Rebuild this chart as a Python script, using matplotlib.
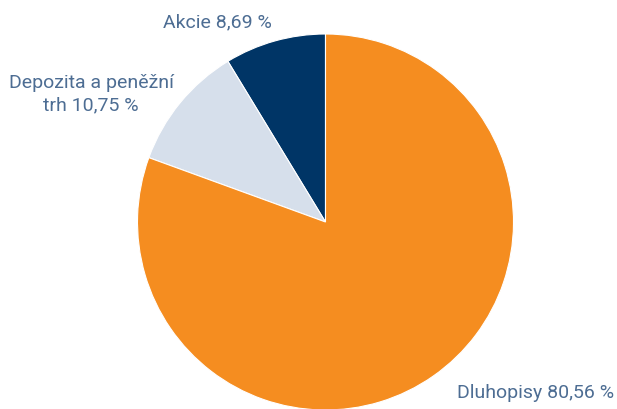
import matplotlib.pyplot as plt

labels = ['Akcie 8,69 %', 'Depozita a peněžní\ntrh 10,75 %', 'Dluhopisy 80,56 %']
shares = [8.69, 10.75, 80.56]
colors = ['#003566', '#d6dfeb', '#f58d20']

# label anchor points in pixel coords (x, baseline y from top)
label_pos = [(217, 27), (91, 110), (536, 398)]

W, H = 617, 410
fig = plt.figure(figsize=(W / 100, H / 100), dpi=100)
ax = fig.add_axes([0, 0, 1, 1])
ax.set_xlim(0, W)
ax.set_ylim(0, H)
ax.set_aspect('equal')
ax.axis('off')

ax.pie(shares, colors=colors, startangle=90, counterclock=True,
       center=(325.5, H - 223), radius=188,
       wedgeprops=dict(edgecolor='white', linewidth=0.8))

for lab, (x, y) in zip(labels, label_pos):
    ax.text(x, H - y, lab, ha='center', va='baseline', fontsize=14,
            color='#4d6d93', family=['Roboto', 'DejaVu Sans'], fontweight='normal',
            linespacing=1.25, multialignment='center')

ax.set_xlim(0, W)
ax.set_ylim(0, H)
fig.savefig('out.png', dpi=100)
